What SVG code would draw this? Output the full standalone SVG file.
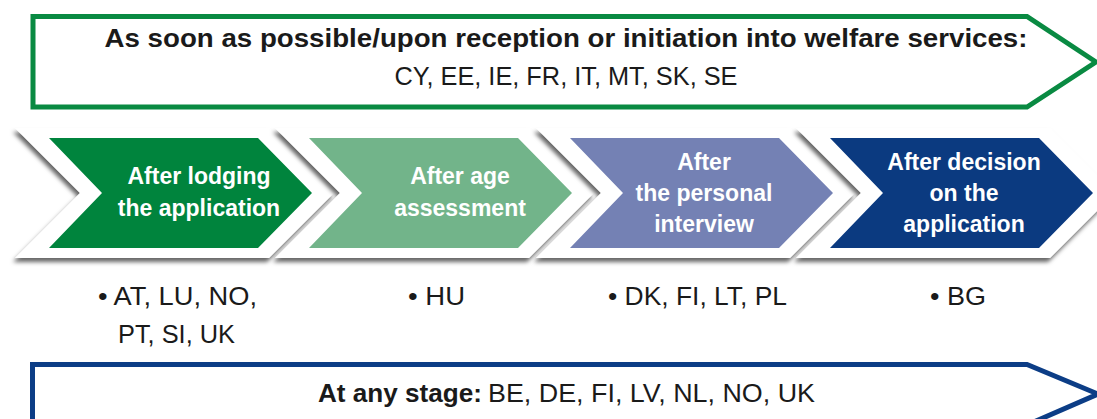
<svg xmlns="http://www.w3.org/2000/svg" width="1097" height="419" viewBox="0 0 1097 419">
<style>
.reg{font-family:"Liberation Sans",Arial,sans-serif;font-size:26px;fill:#1a1a1a}
.bold{font-family:"Liberation Sans",Arial,sans-serif;font-weight:bold;font-size:26px;fill:#1a1a1a}
.ch{font-family:"Liberation Sans",Arial,sans-serif;font-weight:bold;font-size:23px;fill:#ffffff;text-anchor:middle}
.outer{fill:#ffffff;filter:url(#sh)}
</style>
<defs>
<filter id="sh" x="-10%" y="-10%" width="120%" height="130%">
<feDropShadow dx="-2" dy="4" stdDeviation="2.2" flood-color="#000" flood-opacity="0.6"/>
</filter>
</defs>
<rect width="1097" height="419" fill="#ffffff"/>

<g id="top-arrow">
<path d="M33 16.5 H1027 L1096 62 L1027 107 H33 Z" fill="#ffffff" stroke="#098a42" stroke-width="5"/>
<text class="bold" x="566" y="47" text-anchor="middle" textLength="923" lengthAdjust="spacingAndGlyphs">As soon as possible/upon reception or initiation into welfare services:</text>
<text class="reg" x="566" y="85" text-anchor="middle" textLength="343" lengthAdjust="spacingAndGlyphs">CY, EE, IE, FR, IT, MT, SK, SE</text>
</g>

<g id="stage1">
<polygon class="outer" points="15,128 269,128 334,193 269,258 15,258 80,193"/>
<polygon fill="#00843d" points="49,138 258,138 312,193 258,248 49,248 102,193"/>
<text class="ch" x="199" y="184">After lodging</text>
<text class="ch" x="199" y="216">the application</text>
</g>

<g id="stage2">
<polygon class="outer" points="275,128 529,128 594,193 529,258 275,258 340,193"/>
<polygon fill="#72b48a" points="309,138 518,138 572,193 518,248 309,248 362,193"/>
<text class="ch" x="460" y="184">After age</text>
<text class="ch" x="460" y="216">assessment</text>
</g>

<g id="stage3">
<polygon class="outer" points="536,128 790,128 855,193 790,258 536,258 601,193"/>
<polygon fill="#7481b4" points="570,138 779,138 833,193 779,248 570,248 623,193"/>
<text class="ch" x="704" y="170">After</text>
<text class="ch" x="704" y="201">the personal</text>
<text class="ch" x="704" y="232">interview</text>
</g>

<g id="stage4">
<polygon class="outer" points="796,128 1050,128 1115,193 1050,258 796,258 861,193"/>
<polygon fill="#0b3a80" points="830,138 1039,138 1093,193 1039,248 830,248 883,193"/>
<text class="ch" x="964" y="170">After decision</text>
<text class="ch" x="964" y="201">on the</text>
<text class="ch" x="964" y="232">application</text>
</g>

<g id="list1">
<text class="reg" x="98" y="305" textLength="159" lengthAdjust="spacingAndGlyphs">• AT, LU, NO,</text>
<text class="reg" x="118" y="343" textLength="117" lengthAdjust="spacingAndGlyphs">PT, SI, UK</text>
</g>
<g id="list2">
<text class="reg" x="408" y="305" textLength="57" lengthAdjust="spacingAndGlyphs">• HU</text>
</g>
<g id="list3">
<text class="reg" x="608" y="305" textLength="179" lengthAdjust="spacingAndGlyphs">• DK, FI, LT, PL</text>
</g>
<g id="list4">
<text class="reg" x="930" y="305" textLength="56" lengthAdjust="spacingAndGlyphs">• BG</text>
</g>

<g id="bottom-arrow">
<path d="M32.5 440 V364.5 H1027 L1098 394 L1020 428" fill="#ffffff" stroke="#0c3d86" stroke-width="5"/>
<text class="bold" x="318" y="402" textLength="164" lengthAdjust="spacingAndGlyphs">At any stage:</text>
<text class="reg" x="488" y="402" textLength="327" lengthAdjust="spacingAndGlyphs">BE, DE, FI, LV, NL, NO, UK</text>
</g>
</svg>
